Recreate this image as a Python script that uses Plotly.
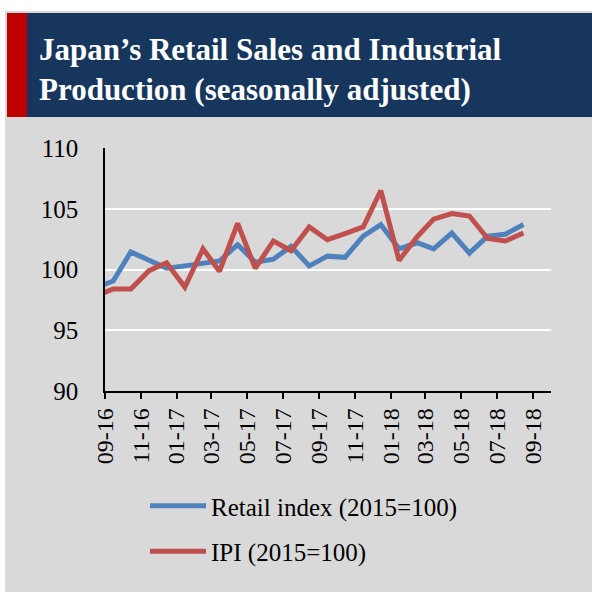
import plotly.graph_objects as go
import pandas as pd

# ---- data (monthly) ----
months = pd.date_range("2016-08-01", "2018-08-01", freq="MS")
dates = [m + pd.Timedelta(days=14) for m in months]   # plotted mid-month
retail = [98.5, 99.05, 101.45, 100.75, 100.1, 100.3, 100.5, 100.7, 102.05, 100.6,
          100.85, 101.9, 100.3, 101.1, 101.0, 102.75, 103.7, 101.7, 102.2, 101.7,
          103.0, 101.35, 102.75, 102.9, 103.7]
ipi = [97.8, 98.4, 98.4, 99.9, 100.55, 98.55, 101.7, 99.85, 103.8, 100.1,
       102.35, 101.55, 103.5, 102.45, 102.95, 103.5, 106.5, 100.75, 102.7, 104.15,
       104.6, 104.4, 102.55, 102.35, 103.0]
series_names = ["Retail index (2015=100)", "IPI (2015=100)"]
y_ticks = [90, 95, 100, 105, 110]
title_text = "Japan’s Retail Sales and Industrial<br>Production (seasonally adjusted)"

W, H = 592, 592
L, R, T, B = 105, 41, 148, 201
PW, PH = W - L - R, H - T - B

def px(x):
    return (x - L) / PW

def py(y):
    return (H - B - y) / PH

SERIF = "Liberation Serif"

fig = go.Figure()
fig.add_trace(go.Scatter(x=dates, y=retail, mode="lines", name=series_names[0],
                         line=dict(color="#4F81BD", width=5), legendgroup="a"))
fig.add_trace(go.Scatter(x=dates, y=ipi, mode="lines", name=series_names[1],
                         line=dict(color="#C0504D", width=5), legendgroup="b"))

shapes = [
    dict(type="rect", xref="paper", yref="paper", x0=px(5), x1=px(600), y0=py(11), y1=py(600),
         fillcolor="#D9D9D9", line=dict(width=0), layer="below"),
    dict(type="rect", xref="paper", yref="paper", x0=px(27), x1=px(600), y0=py(13), y1=py(117),
         fillcolor="#17365D", line=dict(width=0), layer="below"),
    dict(type="rect", xref="paper", yref="paper", x0=px(7), x1=px(27), y0=py(13), y1=py(117),
         fillcolor="#C00000", line=dict(width=0), layer="below"),
]

fig.update_layout(
    width=W, height=H,
    margin=dict(l=L, r=R, t=T, b=B),
    paper_bgcolor="white",
    plot_bgcolor="#D9D9D9",
    shapes=shapes,
    font=dict(family=SERIF, color="#000000"),
    annotations=[dict(text="<b>" + title_text + "</b>", xref="paper", yref="paper",
                      x=px(37), y=py(69), xanchor="left", yanchor="middle", align="left",
                      showarrow=False, font=dict(family=SERIF, size=31, color="white"))],
    showlegend=True,
    legend=dict(x=px(145), y=py(483), xanchor="left", yanchor="top",
                bgcolor="rgba(0,0,0,0)", font=dict(family=SERIF, size=25, color="#000"),
                itemwidth=56, tracegroupgap=10),
    xaxis=dict(type="date", range=["2016-09-01", "2018-10-01"], tick0="2016-09-01", dtick="M2",
               tickformat="%m-%y", tickangle=-90, ticks="outside", ticklen=6, tickwidth=1.5,
               tickcolor="#000", showline=True, linecolor="#000", linewidth=1.5,
               showgrid=False, zeroline=False, tickfont=dict(family=SERIF, size=24, color="#000")),
    yaxis=dict(range=[90, 110], tickvals=y_ticks, showgrid=True, gridcolor="white", gridwidth=2,
               showline=True, linecolor="#000", linewidth=1.5, zeroline=False, ticks="",
               ticklabelstandoff=20, tickfont=dict(family=SERIF, size=25, color="#000")),
)

fig.write_html("out.html", config={"displayModeBar": False},
               post_script="document.body.style.margin='0';document.body.style.overflow='hidden';")
